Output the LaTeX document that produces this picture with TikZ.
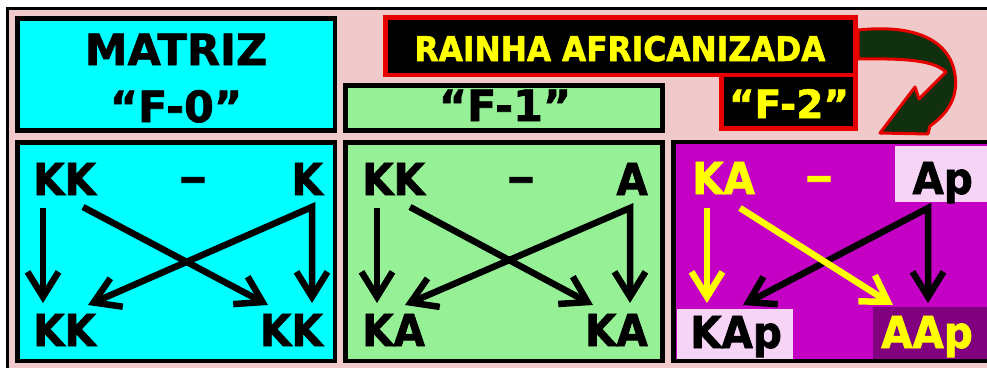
\documentclass[tikz,border=0pt]{standalone}
\usepackage{fontspec}
\setmainfont{DejaVu Sans}[BoldFeatures={FakeBold=1.6}]
\newfontfamily\lowfont{DejaVu Sans}[FakeStretch=0.92,BoldFeatures={FakeBold=1.6}]
\usetikzlibrary{arrows.meta}
\definecolor{bgpink}{RGB}{240,202,202}
\definecolor{cyanbox}{RGB}{0,255,255}
\definecolor{greenbox}{RGB}{150,240,150}
\definecolor{purplebox}{RGB}{196,0,196}
\definecolor{darkpurple}{RGB}{128,0,128}
\definecolor{lightpink}{RGB}{246,212,246}
\definecolor{darkgreen}{RGB}{16,48,16}
\definecolor{redline}{RGB}{230,0,0}
\definecolor{yellowtxt}{RGB}{255,255,0}
\tikzset{
  barbtip/.tip={Straight Barb[length=25pt,width=31pt]},
  boxframe/.style={draw=black,line width=4.5pt},
  lblbox/.style={fill=black,draw=redline,line width=4.5pt},
  txtbig/.style={font=\fontsize{43}{43}\selectfont\bfseries,inner sep=0pt},
  txtmid/.style={font=\lowfont\fontsize{44}{44}\selectfont\bfseries,inner sep=0pt},
  arr/.style={line width=6.5pt,-barbtip},
  arrtwo/.style={line width=6.5pt,barbtip-barbtip},
}
\begin{document}
\begin{tikzpicture}[x=1pt,y=-1pt]
\useasboundingbox (0,0) rectangle (987,367);
\fill[white] (0,0) rectangle (987,367);
% background and frame
\fill[bgpink] (7,8.5) rectangle (1000,380);
\draw[line width=3pt] (7,380) -- (7,8.5) -- (1000,8.5);
% boxes
\draw[boxframe,fill=cyanbox] (17.5,18.5) rectangle (335,130.5);
\draw[boxframe,fill=cyanbox] (17.5,142.5) rectangle (335,361);
\draw[boxframe,fill=greenbox] (345.5,85.5) rectangle (662.5,130.5);
\draw[boxframe,fill=greenbox] (345.5,142.5) rectangle (662.5,361);
\fill[purplebox] (673.5,142) rectangle (1000,361);
\fill[lightpink] (895,146) rectangle (995,202);
\fill[lightpink] (677,309) rectangle (793,360);
\fill[darkpurple] (873,307) rectangle (995,360);
\draw[boxframe] (673.5,142) rectangle (1000,361);
% curved arrow
\draw[fill=darkgreen,draw=redline,line width=3pt,line join=round]
  (858,30) .. controls (915,24) and (950,40) .. (955,75)
  .. controls (958,95) and (950,112) .. (930,126)
  -- (928,134) -- (880,133) -- (915,87) -- (919,99) -- (946,72)
  .. controls (935,62) and (915,58) .. (858,59) -- cycle;
% labels
\draw[lblbox] (721.5,74) rectangle (855.5,128.5);
\draw[lblbox] (385.5,17.5) rectangle (855.5,75);
\node[font=\lowfont\fontsize{34}{34}\selectfont\bfseries,text=yellowtxt,anchor=base,inner sep=0pt] (rainha) at (620,61) {RAINHA AFRICANIZADA};
\node[font=\fontsize{39}{39}\selectfont\bfseries,text=yellowtxt,anchor=base,inner sep=0pt] (f2) at (789,118) {“F-2”};
% headers
\node[txtbig,anchor=base] (matriz) at (176,65) {MATRIZ};
\node[txtbig,anchor=base] (f0) at (176,122) {“F-0”};
\node[txtbig,anchor=base] (f1) at (505,121) {“F-1”};
% cyan panel
\node[txtmid,anchor=base west] (ckk) at (33,195) {KK};
\node[txtmid,anchor=base] (cdash) at (193,192) {\scalebox{1.4}[1]{–}};
\node[txtmid,anchor=base east] (ck) at (323,195) {K};
\node[txtmid,anchor=base west] (ckkl) at (33,346) {KK};
\node[txtmid,anchor=base east] (ckkr) at (323,346) {KK};
\coordinate (c1s) at (43,208); \coordinate (c1e) at (43,303);
\coordinate (c2s) at (83,207); \coordinate (c2e) at (268,305);
\coordinate (c3c) at (312,207); \coordinate (c3a) at (88,305); \coordinate (c3b) at (312,303);
\draw[arr] (c1s) -- (c1e);
\draw[arr] (c2s) -- (c2e);
\draw[arrtwo] (c3a) -- (c3c) -- (c3b);
% green panel
\node[txtmid,anchor=base west] (gkk) at (362,195) {KK};
\node[txtmid,anchor=base] (gdash) at (521,192) {\scalebox{1.4}[1]{–}};
\node[txtmid,anchor=base east] (ga) at (648,195) {A};
\node[txtmid,anchor=base west] (gkal) at (362,346) {KA};
\node[txtmid,anchor=base east] (gkar) at (648,346) {KA};
\coordinate (g1s) at (377,208); \coordinate (g1e) at (377,303);
\coordinate (g2s) at (410,207); \coordinate (g2e) at (593,305);
\coordinate (g3c) at (630,208); \coordinate (g3a) at (405,305); \coordinate (g3b) at (630,303);
\draw[arr] (g1s) -- (g1e);
\draw[arr] (g2s) -- (g2e);
\draw[arrtwo] (g3a) -- (g3c) -- (g3b);
% purple panel
\node[txtmid,anchor=base west,text=yellowtxt] (pka) at (692,194) {KA};
\node[txtmid,anchor=base,text=yellowtxt] (pdash) at (819,191) {\scalebox{1.4}[1]{–}};
\node[txtmid,anchor=base east] (pap) at (973,194) {Ap};
\node[txtmid,anchor=base west] (pkap) at (690,348) {KAp};
\node[txtmid,anchor=base east,text=yellowtxt] (paap) at (973,348) {AAp};
\coordinate (p3c) at (928,208); \coordinate (p3a) at (743,305); \coordinate (p3b) at (928,303);
\coordinate (p1s) at (707,208); \coordinate (p1e) at (707,303);
\coordinate (p2s) at (740,208); \coordinate (p2e) at (893,305);
\draw[arrtwo] (p3a) -- (p3c) -- (p3b);
\draw[arr,yellowtxt] (p1s) -- (p1e);
\draw[arr,yellowtxt] (p2s) -- (p2e);
\end{tikzpicture}
\end{document}
